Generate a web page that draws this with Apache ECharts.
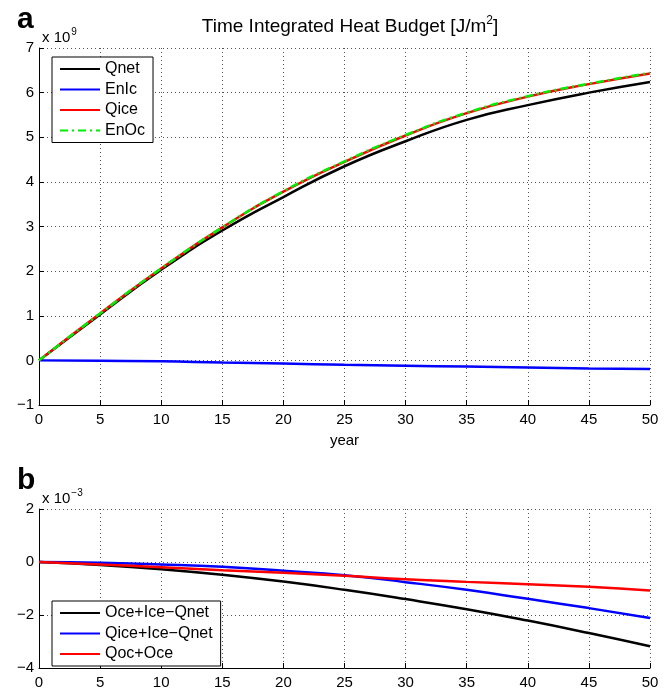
<!DOCTYPE html>
<html>
<head>
<meta charset="utf-8">
<script src="https://cdn.jsdelivr.net/npm/echarts@6/dist/echarts.min.js"></script>
<style>
  html, body { margin: 0; padding: 0; background: #fff; }
  #main { width: 671px; height: 690px; }
</style>
</head>
<body>
<div id="main"></div>
<script>
// years sampled for both panels
var years = [0, 5, 10, 15, 20, 25, 30, 35, 40, 45, 50];

// panel a, units of 1e9 J/m2
var qnet = [0, 1.03, 2.03, 2.91, 3.66, 4.35, 4.91, 5.39, 5.72, 6.00, 6.24];
var enic = [0, -0.01, -0.02, -0.05, -0.07, -0.10, -0.12, -0.14, -0.16, -0.18, -0.195];
var qice = [0, 1.05, 2.06, 2.98, 3.78, 4.45, 5.04, 5.54, 5.91, 6.19, 6.43];
var enoc = [0, 1.05, 2.06, 2.98, 3.79, 4.46, 5.05, 5.55, 5.92, 6.20, 6.44];

// panel b, units of 1e-3
var oceIceQnet = [0, -0.11, -0.27, -0.48, -0.74, -1.05, -1.40, -1.78, -2.21, -2.68, -3.18];
var qiceIceQnet = [0, -0.03, -0.09, -0.18, -0.33, -0.50, -0.76, -1.05, -1.39, -1.74, -2.11];
var qocOce = [0, -0.09, -0.20, -0.31, -0.41, -0.52, -0.65, -0.75, -0.84, -0.93, -1.08];

var namesA = ['Qnet', 'EnIc', 'Qice', 'EnOc'];
var namesB = ['Oce+Ice\u2212Qnet', 'Qice+Ice\u2212Qnet', 'Qoc+Oce'];

function pairs(ys) {
    return years.map(function (x, i) { return [x, ys[i]]; });
}

var font = 'Liberation Sans, Arial, sans-serif';
var dotted = { show: true, lineStyle: { color: '#555', width: 1, type: [1, 3] } };

function minus(v) {
    return String(v).replace('-', '\u2212');
}

function xAxisFor(gi, name) {
    return {
        type: 'value', gridIndex: gi, min: 0, max: 50, interval: 5,
        name: name, nameLocation: 'middle', nameGap: 28,
        nameTextStyle: { color: '#000', fontSize: 15, fontFamily: font },
        axisLine: { onZero: false, lineStyle: { color: '#000', width: 1 } },
        axisTick: { inside: true, length: 5, lineStyle: { color: '#000' } },
        axisLabel: { color: '#000', fontSize: 15, fontFamily: font, margin: 7 },
        splitLine: dotted
    };
}
function yAxisFor(gi, min, max, step) {
    return {
        type: 'value', gridIndex: gi, min: min, max: max, interval: step,
        axisLine: { show: true, onZero: false, lineStyle: { color: '#000', width: 1 } },
        axisTick: { show: true, inside: true, length: 5, lineStyle: { color: '#000' } },
        axisLabel: { color: '#000', fontSize: 15, fontFamily: font, margin: 5, formatter: minus },
        splitLine: dotted
    };
}

var lw = 2.5;
var legendStyle = {
    orient: 'vertical', left: 52, itemWidth: 40, itemHeight: 16, itemGap: 4.5,
    padding: [4, 8, 4, 7], borderColor: '#000', borderWidth: 1,
    backgroundColor: '#fff',
    itemStyle: { opacity: 0 },
    textStyle: { color: '#000', fontSize: 16, fontFamily: font }
};

var plain = { color: '#000', fontFamily: font, fontWeight: 'normal' };

var myChart = echarts.init(document.getElementById('main'));

option = {
    animation: false,
    backgroundColor: '#fff',
    title: [
        {
            text: '{t|Time Integrated Heat Budget [J/m}{s|2}{t|]}',
            left: 345, top: 10, textAlign: 'center',
            textStyle: { rich: {
                t: Object.assign({ fontSize: 19 }, plain),
                s: Object.assign({ fontSize: 12, padding: [0, 0, 11, 0] }, plain)
            } }
        },
        { text: 'a', left: 12, top: 0, textStyle: { fontSize: 30, fontWeight: 'bold', color: '#000', fontFamily: font } },
        { text: 'b', left: 12, top: 461, textStyle: { fontSize: 30, fontWeight: 'bold', color: '#000', fontFamily: font } },
        {
            text: '{t|x 10}{s|9}', left: 37, top: 22,
            textStyle: { rich: {
                t: Object.assign({ fontSize: 15 }, plain),
                s: Object.assign({ fontSize: 10, padding: [0, 0, 11, 1] }, plain)
            } }
        },
        {
            text: '{t|x 10}{s|\u22123}', left: 37, top: 483,
            textStyle: { rich: {
                t: Object.assign({ fontSize: 15 }, plain),
                s: Object.assign({ fontSize: 10, padding: [0, 0, 11, 1] }, plain)
            } }
        }
    ],
    legend: [
        Object.assign({}, legendStyle, { top: 57, data: namesA }),
        Object.assign({}, legendStyle, { top: 601, data: namesB })
    ],
    grid: [
        { left: 39, right: 21, top: 48, height: 357 },
        { left: 39, right: 21, top: 509, height: 160 }
    ],
    xAxis: [xAxisFor(0, 'year'), xAxisFor(1, '')],
    yAxis: [yAxisFor(0, -1, 7, 1), yAxisFor(1, -4, 2, 2)],
    series: [
        { name: namesA[0], type: 'line', xAxisIndex: 0, yAxisIndex: 0, symbol: 'none', smooth: true,
          lineStyle: { color: '#000', width: lw }, itemStyle: { color: '#000' }, data: pairs(qnet) },
        { name: namesA[1], type: 'line', xAxisIndex: 0, yAxisIndex: 0, symbol: 'none', smooth: true,
          lineStyle: { color: '#0000ff', width: lw }, itemStyle: { color: '#0000ff' }, data: pairs(enic) },
        { name: namesA[2], type: 'line', xAxisIndex: 0, yAxisIndex: 0, symbol: 'none', smooth: true,
          lineStyle: { color: '#ff0000', width: lw }, itemStyle: { color: '#ff0000' }, data: pairs(qice) },
        { name: namesA[3], type: 'line', xAxisIndex: 0, yAxisIndex: 0, symbol: 'none', smooth: true,
          lineStyle: { color: '#00ee00', width: lw, type: [8, 4, 2, 4] }, itemStyle: { color: '#00ee00' }, data: pairs(enoc) },

        { name: namesB[0], type: 'line', xAxisIndex: 1, yAxisIndex: 1, symbol: 'none', smooth: true,
          lineStyle: { color: '#000', width: lw }, itemStyle: { color: '#000' }, data: pairs(oceIceQnet) },
        { name: namesB[1], type: 'line', xAxisIndex: 1, yAxisIndex: 1, symbol: 'none', smooth: true,
          lineStyle: { color: '#0000ff', width: lw }, itemStyle: { color: '#0000ff' }, data: pairs(qiceIceQnet) },
        { name: namesB[2], type: 'line', xAxisIndex: 1, yAxisIndex: 1, symbol: 'none', smooth: true,
          lineStyle: { color: '#ff0000', width: lw }, itemStyle: { color: '#ff0000' }, data: pairs(qocOce) }
    ]
};

myChart.setOption(option);
</script>
</body>
</html>
